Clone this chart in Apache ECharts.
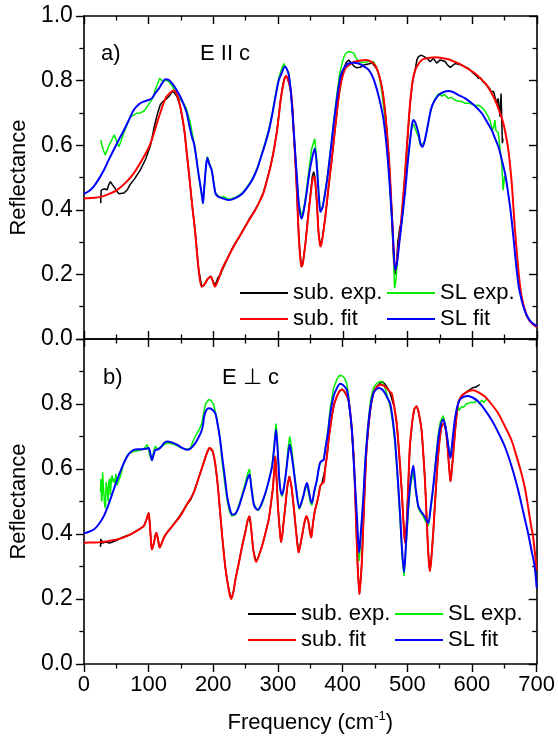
<!DOCTYPE html>
<html><head><meta charset="utf-8">
<script src="https://cdn.jsdelivr.net/npm/echarts@6/dist/echarts.min.js"></script>
<style>html,body{margin:0;padding:0;background:#fff}#c{width:558px;height:744px}</style>
</head><body><div id="c"></div>
<script>
// ---------- DATA (frequency cm^-1, reflectance) ----------
const xTickLabels = [0,100,200,300,400,500,600,700];
const yTickLabels = [0.0,0.2,0.4,0.6,0.8,1.0];
const seriesNames = ['sub. exp.','SL exp.','sub. fit','SL fit'];
const panelLabels = ['a)','b)'];
const panelTitles = ['E II c','E \u22A5 c'];

// Panel a) E || c
const topSubExp = [[26,0.42],[26.7,0.46],[28,0.455],[31,0.465],[34,0.47],[36,0.462],[38,0.475],[41,0.487],[44,0.478],[47,0.47],[50,0.46],[54,0.45],[57,0.448],[62,0.452],[67,0.462],[72,0.48],[78,0.495],[87,0.523],[95,0.555],[103,0.6],[107,0.64],[110,0.668],[114,0.7],[118,0.725],[122,0.735],[128.5,0.745],[133,0.755],[136,0.766],[140,0.762],[144,0.75],[149,0.719],[155,0.65],[159,0.575],[163,0.5],[167,0.42],[172,0.33],[177,0.22],[182,0.162],[186,0.168],[191,0.185],[196,0.195],[199,0.182],[202.5,0.165],[207,0.19],[211,0.2],[214,0.215],[220,0.24],[224,0.26],[229,0.28],[234,0.298],[240,0.315],[245,0.335],[250,0.35],[255,0.37],[263,0.395],[270,0.42],[277,0.452],[283,0.493],[289,0.54],[293.5,0.585],[298,0.64],[301,0.69],[304,0.742],[307.3,0.785],[310,0.808],[312.5,0.815],[315,0.805],[319,0.776],[322,0.72],[324,0.647],[327,0.54],[329.4,0.441],[331,0.36],[333,0.286],[336,0.224],[338,0.232],[340,0.26],[342.3,0.296],[346,0.375],[350,0.45],[353,0.505],[355,0.518],[357,0.5],[360,0.42],[362.5,0.33],[365.4,0.29],[368,0.305],[373,0.379],[378,0.47],[383.4,0.564],[388,0.65],[393.7,0.75],[398,0.805],[402,0.84],[405,0.855],[409,0.864],[413,0.855],[417,0.845],[421,0.84],[427,0.841],[432,0.848],[436,0.85],[441,0.852],[445,0.855],[448,0.85],[453,0.835],[458,0.802],[462,0.76],[465.6,0.699],[469,0.62],[471.8,0.543],[474.5,0.44],[477,0.337],[479,0.25],[481,0.2],[483,0.23],[485,0.3],[488,0.345],[491,0.36],[493,0.42],[496.5,0.52],[500,0.62],[504,0.73],[508,0.8],[512,0.835],[514.4,0.864],[517,0.874],[521,0.879],[525,0.875],[530,0.869],[535,0.858],[540,0.869],[545,0.854],[550.5,0.864],[558,0.859],[562,0.848],[566,0.841],[573.6,0.853],[584,0.848],[594,0.838],[602,0.822],[607,0.814],[609.5,0.807],[613,0.808],[617,0.795],[621,0.79],[624,0.792],[627,0.775],[629,0.766],[633,0.766],[635,0.75],[638,0.73],[640,0.745],[643,0.688],[644.5,0.76],[646.5,0.606],[647.5,0.62]];

const topSLExp = [[26,0.616],[28,0.6],[30,0.585],[33,0.57],[36,0.585],[39,0.6],[41,0.605],[44,0.62],[47,0.632],[50,0.615],[54,0.595],[57,0.61],[62,0.64],[67,0.665],[72,0.688],[77,0.693],[82,0.699],[87,0.7],[92.5,0.705],[97,0.717],[103,0.735],[107,0.748],[110,0.77],[114,0.79],[117,0.807],[120,0.8],[123,0.797],[127,0.8],[131,0.797],[136,0.785],[141,0.766],[147,0.745],[154,0.73],[159,0.71],[164,0.673],[168,0.63],[171,0.6],[174,0.56],[177,0.51],[180,0.47],[182,0.44],[184,0.42],[186,0.47],[188.5,0.535],[190.7,0.565],[194,0.545],[197.4,0.525],[200,0.49],[203.5,0.452],[208,0.442],[212,0.438],[216.4,0.441],[219,0.435],[224,0.432],[234,0.438],[244.6,0.452],[252,0.47],[260,0.495],[268,0.53],[275.5,0.578],[281,0.615],[286,0.652],[291,0.7],[296,0.755],[301,0.808],[305.3,0.835],[309,0.853],[312,0.848],[316.6,0.823],[320,0.76],[322.7,0.69],[326,0.59],[329.4,0.49],[332,0.42],[336,0.384],[339,0.395],[343.3,0.45],[348,0.53],[352,0.59],[356.7,0.62],[360,0.55],[363,0.45],[365.4,0.394],[369,0.41],[375.7,0.495],[381,0.585],[386,0.675],[391,0.76],[395,0.82],[398.8,0.853],[402,0.875],[405,0.885],[409,0.89],[413,0.888],[416.8,0.885],[420,0.872],[424.5,0.859],[430,0.856],[435,0.857],[440,0.86],[444,0.858],[447.6,0.859],[452,0.84],[456,0.815],[460,0.77],[464,0.705],[468,0.62],[471,0.53],[474,0.43],[476.5,0.33],[478.5,0.24],[480,0.157],[482,0.18],[485,0.26],[488,0.33],[491,0.36],[494,0.42],[498,0.51],[502,0.59],[506.7,0.657],[509,0.665],[512,0.66],[517,0.625],[520,0.6],[523,0.595],[526,0.608],[530,0.645],[534,0.69],[538,0.722],[543,0.745],[548,0.76],[553,0.752],[557,0.757],[563,0.745],[568,0.748],[573,0.74],[578,0.737],[584,0.735],[589,0.73],[595,0.73],[600,0.727],[605,0.722],[609.5,0.724],[615,0.717],[620,0.705],[625,0.688],[628,0.672],[631,0.647],[633,0.655],[635,0.678],[636.5,0.645],[638,0.645],[640,0.64],[642.6,0.595],[645.5,0.544],[647.7,0.461],[650,0.505]];

const topSubFit = [[0,0.435],[15,0.437],[26,0.44],[40,0.45],[51,0.461],[65,0.485],[77,0.513],[90,0.555],[103,0.606],[116,0.688],[126,0.745],[133,0.762],[138,0.769],[143,0.76],[149,0.719],[155,0.65],[159,0.575],[163,0.5],[167,0.42],[172,0.33],[177,0.22],[182,0.162],[186,0.168],[191,0.185],[196,0.193],[199,0.18],[202.5,0.162],[207,0.18],[214,0.219],[224,0.258],[234,0.296],[245,0.333],[255,0.368],[263,0.393],[270,0.42],[277,0.45],[283,0.492],[289,0.54],[293.5,0.585],[298,0.64],[301,0.688],[304,0.74],[307.3,0.781],[310,0.805],[312.5,0.814],[315,0.805],[319,0.776],[322,0.72],[324,0.647],[327,0.54],[329.4,0.441],[331,0.36],[333,0.286],[336,0.224],[338,0.232],[340,0.26],[342.3,0.296],[346,0.37],[350,0.441],[353,0.49],[355,0.503],[357,0.495],[360,0.42],[362.5,0.33],[365.4,0.286],[368,0.305],[373,0.379],[378,0.47],[383.4,0.564],[388,0.65],[393.7,0.75],[398,0.8],[404,0.838],[412,0.852],[419.4,0.859],[427,0.862],[434.8,0.864],[441,0.862],[447.6,0.853],[453,0.835],[458,0.802],[462,0.76],[465.6,0.699],[469,0.62],[471.8,0.543],[474.5,0.44],[477,0.337],[479,0.25],[481,0.214],[483,0.23],[485,0.27],[488.8,0.337],[492,0.41],[496.5,0.523],[500,0.625],[504,0.73],[508,0.8],[512,0.833],[517,0.852],[522,0.864],[527,0.868],[535,0.871],[542.7,0.872],[553,0.87],[563.3,0.866],[573,0.858],[583.8,0.848],[594,0.836],[604.4,0.822],[612,0.808],[619.8,0.792],[628,0.768],[635.2,0.74],[642,0.705],[648,0.668],[652,0.63],[655.8,0.585],[658.5,0.535],[661,0.482],[663.5,0.41],[666,0.337],[668.5,0.275],[671.2,0.214],[673.5,0.17],[676.3,0.131],[680,0.1],[684,0.074],[688,0.058],[692,0.049],[696,0.042],[700,0.037]];

const topSLFit = [[0,0.449],[8,0.458],[15,0.472],[23,0.495],[31,0.523],[38,0.553],[46,0.585],[54,0.617],[62,0.647],[70,0.68],[77,0.709],[85,0.727],[92.5,0.735],[100,0.74],[105,0.745],[110,0.76],[116,0.776],[121,0.792],[126,0.804],[131,0.802],[136,0.792],[142,0.775],[149,0.75],[154,0.727],[159,0.699],[163,0.66],[167,0.625],[170,0.606],[173,0.57],[177,0.513],[180,0.475],[182,0.45],[184,0.42],[186,0.47],[188.5,0.53],[190.7,0.56],[194,0.54],[197.4,0.523],[200,0.49],[203.5,0.45],[208,0.44],[214,0.436],[224,0.43],[234,0.436],[244.6,0.45],[252,0.468],[260,0.492],[268,0.528],[275.5,0.575],[281,0.61],[286,0.647],[291,0.695],[296,0.75],[301,0.8],[305.3,0.822],[310.4,0.843],[313,0.838],[316.6,0.817],[320,0.76],[322.7,0.688],[326,0.59],[329.4,0.492],[332,0.42],[336,0.373],[339,0.39],[343.3,0.441],[348,0.51],[352.6,0.56],[356.7,0.59],[360,0.53],[363,0.44],[365.4,0.394],[369,0.41],[375.7,0.492],[381,0.58],[386,0.668],[391,0.745],[396.3,0.812],[402,0.84],[409,0.853],[417,0.855],[424.5,0.853],[432,0.845],[440,0.833],[447,0.808],[452.8,0.771],[458,0.73],[463,0.678],[467,0.61],[470.8,0.523],[474,0.43],[477,0.337],[479,0.26],[481,0.214],[484,0.24],[487.2,0.296],[492,0.38],[496.5,0.461],[500,0.54],[504,0.616],[507,0.665],[509.3,0.678],[512,0.67],[517,0.637],[520,0.605],[523.2,0.595],[526,0.61],[530,0.647],[534,0.69],[537.6,0.72],[543,0.742],[548,0.755],[555,0.764],[563.3,0.768],[571,0.764],[578.7,0.755],[589,0.745],[599.3,0.73],[607,0.716],[614.7,0.699],[622,0.675],[630,0.647],[635,0.622],[640.4,0.595],[645,0.56],[650.6,0.513],[654.5,0.465],[658.4,0.41],[661,0.365],[663.5,0.317],[666,0.265],[668.6,0.214],[672,0.16],[676.3,0.12],[681,0.088],[686.6,0.064],[692,0.05],[700,0.04]];

// Panel b) E ⊥ c
const botSubExp = [[25.7,0.36],[26.2,0.385],[27,0.37],[28,0.38],[29.5,0.372],[31,0.368],[33,0.375],[36,0.37],[40,0.372],[45,0.376],[50,0.38],[55,0.385],[60,0.39],[66,0.395],[72,0.398],[77,0.404],[86,0.415],[92.5,0.424],[96,0.44],[98.5,0.455],[100.2,0.465],[102,0.43],[104,0.37],[105.3,0.352],[108,0.37],[110.5,0.395],[112,0.404],[114,0.39],[117.2,0.358],[120,0.37],[124,0.39],[128.5,0.404],[137,0.425],[149,0.458],[159,0.49],[165,0.505],[169.6,0.528],[177,0.57],[185,0.618],[190,0.648],[194.2,0.665],[199,0.655],[203,0.618],[207,0.55],[210.7,0.465],[214,0.39],[218.4,0.302],[223,0.24],[227.6,0.2],[231,0.22],[234.4,0.261],[239.5,0.31],[244.7,0.363],[250,0.41],[253,0.44],[256,0.455],[259,0.41],[262,0.35],[266.3,0.314],[270,0.33],[275.5,0.363],[281,0.405],[285.8,0.445],[289,0.49],[292,0.537],[294.5,0.6],[296,0.64],[298,0.57],[300,0.486],[302.5,0.42],[304.8,0.375],[307,0.4],[309,0.44],[311.5,0.486],[314.5,0.545],[317.7,0.578],[321,0.545],[324.3,0.486],[328,0.41],[332,0.343],[335,0.37],[338.2,0.404],[341,0.435],[343.9,0.455],[347,0.44],[349.5,0.405],[351.6,0.389],[354,0.43],[357,0.47],[360.3,0.496],[363,0.52],[365.4,0.547],[368,0.555],[371,0.56],[373,0.6],[375.7,0.639],[379,0.7],[383.4,0.762],[387,0.8],[391.1,0.823],[395,0.84],[398.8,0.846],[403,0.838],[409,0.813],[413,0.75],[416.8,0.649],[418.8,0.56],[420.4,0.465],[422,0.37],[423.5,0.291],[426,0.215],[428,0.26],[429.7,0.312],[432,0.43],[434.8,0.567],[437,0.66],[440,0.731],[444,0.8],[447.7,0.835],[452,0.852],[458,0.864],[462,0.868],[466,0.86],[470,0.848],[473,0.835],[475.9,0.833],[480,0.79],[483.6,0.741],[487,0.66],[491.3,0.537],[494,0.44],[496.4,0.373],[499,0.43],[501.5,0.55],[504,0.67],[508,0.75],[511,0.785],[514.4,0.794],[518,0.77],[522,0.721],[525,0.64],[527.3,0.567],[529.5,0.47],[531.4,0.383],[533.5,0.31],[535,0.286],[537,0.32],[540.1,0.404],[543,0.5],[546.8,0.618],[550,0.69],[553,0.731],[557,0.741],[560,0.715],[562.2,0.67],[564.5,0.61],[566.8,0.562],[569,0.6],[572,0.67],[575,0.74],[578.7,0.803],[584,0.825],[589,0.833],[595,0.842],[598,0.848],[601,0.85],[603,0.846],[606,0.852],[609,0.855],[612,0.86]];

const botSLExp = [[25.7,0.53],[26.5,0.57],[27.5,0.5],[28.3,0.52],[29,0.59],[30,0.55],[30.8,0.53],[32,0.49],[33.4,0.48],[34.5,0.56],[36,0.54],[37.5,0.5],[38.5,0.56],[40,0.57],[41,0.52],[42.5,0.57],[43.7,0.58],[45,0.56],[46.2,0.57],[48,0.555],[49.5,0.585],[51.4,0.55],[53,0.56],[56.5,0.578],[61.7,0.618],[66,0.638],[69.4,0.648],[77,0.654],[85,0.657],[90,0.66],[94,0.665],[97.6,0.675],[99.5,0.665],[101.5,0.645],[103,0.635],[105.3,0.625],[108,0.655],[110.5,0.67],[113,0.662],[117,0.665],[120.8,0.67],[124,0.675],[128.5,0.68],[136,0.678],[143.9,0.672],[150,0.665],[159.3,0.66],[165,0.665],[169.6,0.69],[175,0.71],[178,0.72],[182.4,0.741],[185,0.77],[188,0.8],[192.7,0.813],[196,0.812],[200.4,0.8],[205.5,0.755],[210,0.7],[213.2,0.63],[217,0.57],[221,0.51],[225,0.47],[228.7,0.455],[231,0.452],[234.4,0.46],[239,0.485],[244.7,0.522],[250,0.56],[253,0.585],[256,0.6],[259,0.55],[262.7,0.495],[266,0.48],[269.3,0.472],[275,0.49],[280.6,0.522],[286,0.565],[291,0.612],[294,0.67],[297.1,0.74],[299.5,0.675],[302.2,0.57],[304,0.53],[306.3,0.515],[309,0.535],[312.5,0.59],[315.5,0.66],[318.2,0.7],[321,0.668],[324.3,0.61],[328,0.545],[333,0.476],[336,0.49],[339.8,0.518],[342.5,0.54],[344.9,0.552],[348,0.52],[350.5,0.495],[352.6,0.488],[356,0.525],[360.3,0.566],[363,0.6],[365.4,0.62],[368,0.625],[370.6,0.63],[374,0.675],[377.3,0.72],[381,0.79],[386,0.848],[391,0.875],[395,0.888],[399,0.887],[403,0.88],[406.6,0.862],[410,0.81],[414.3,0.72],[417,0.63],[419.4,0.54],[422.5,0.42],[425.6,0.317],[428,0.38],[432.2,0.51],[435,0.63],[439,0.73],[443,0.81],[447.7,0.85],[452,0.862],[456.4,0.868],[461,0.87],[465.6,0.85],[469,0.825],[473.3,0.795],[477,0.75],[481,0.68],[485,0.57],[488.7,0.45],[492,0.33],[494.9,0.271],[498,0.36],[501.6,0.47],[505,0.55],[509.3,0.593],[513,0.53],[517,0.48],[521,0.465],[524.7,0.455],[528,0.44],[532.4,0.424],[536,0.47],[540.1,0.54],[544,0.63],[547.8,0.705],[551,0.745],[555.5,0.764],[559,0.735],[562.2,0.69],[564.5,0.655],[566.8,0.644],[569.5,0.68],[573.5,0.74],[578,0.79],[580,0.78],[583.8,0.792],[587,0.79],[591,0.8],[594,0.795],[598,0.805],[601,0.8],[604.4,0.805],[608,0.81],[612,0.8],[615,0.812],[619,0.805],[622.3,0.815]];

const botSubFit = [[0,0.373],[15,0.374],[25.7,0.375],[40,0.379],[51.4,0.383],[65,0.392],[77,0.404],[86,0.415],[92.5,0.424],[96,0.44],[98.5,0.455],[100.2,0.465],[102,0.43],[104,0.37],[105.3,0.352],[108,0.37],[110.5,0.395],[112,0.404],[114,0.39],[117.2,0.358],[120,0.37],[124,0.39],[128.5,0.404],[137,0.425],[149,0.455],[159,0.49],[169.6,0.526],[177,0.57],[185,0.618],[190,0.648],[194.2,0.665],[199,0.655],[203,0.618],[207,0.55],[210.7,0.465],[214,0.39],[218.4,0.302],[223,0.24],[227.6,0.2],[231,0.22],[234.4,0.261],[239.5,0.31],[244.7,0.363],[250,0.41],[253,0.44],[256,0.455],[259,0.41],[262,0.35],[266.3,0.314],[270,0.33],[275.5,0.363],[281,0.405],[285.8,0.445],[289,0.49],[292,0.537],[294.5,0.6],[296,0.639],[298,0.57],[300,0.486],[302.5,0.42],[304.8,0.375],[307,0.4],[309,0.44],[311.5,0.486],[314.5,0.545],[317.7,0.577],[321,0.545],[324.3,0.486],[328,0.41],[332,0.343],[335,0.37],[338.2,0.404],[341,0.435],[343.9,0.455],[347,0.44],[349.5,0.405],[351.6,0.389],[354,0.43],[357,0.47],[360.3,0.496],[363,0.52],[365.4,0.547],[368,0.555],[371,0.56],[373,0.6],[375.7,0.639],[379,0.7],[383.4,0.762],[387,0.8],[391.1,0.823],[395,0.838],[398.8,0.844],[403,0.838],[409,0.813],[413,0.75],[416.8,0.649],[418.8,0.56],[420.4,0.465],[422,0.37],[423.5,0.291],[426,0.215],[428,0.26],[429.7,0.312],[432,0.43],[434.8,0.567],[437,0.66],[440,0.731],[444,0.8],[447.7,0.833],[452,0.85],[458,0.859],[463,0.857],[468.2,0.849],[473,0.838],[475.9,0.833],[480,0.79],[483.6,0.741],[487,0.66],[491.3,0.537],[494,0.44],[496.4,0.373],[499,0.43],[501.5,0.55],[504,0.67],[508,0.75],[511,0.785],[514.4,0.792],[518,0.77],[522,0.721],[525,0.64],[527.3,0.567],[529.5,0.47],[531.4,0.383],[533.5,0.31],[535,0.286],[537,0.32],[540.1,0.404],[543,0.5],[546.8,0.618],[550,0.69],[553,0.731],[557,0.741],[560,0.715],[562.2,0.67],[564.5,0.61],[566.8,0.562],[569,0.6],[572,0.67],[575,0.74],[578.7,0.803],[584,0.825],[589,0.833],[595,0.84],[601.8,0.842],[610,0.836],[619.8,0.823],[630,0.8],[640.3,0.772],[650,0.735],[660.9,0.69],[668,0.645],[676.3,0.588],[682,0.54],[686.6,0.486],[691,0.43],[694.3,0.394],[698,0.33],[700,0.29]];

const botSLFit = [[0,0.402],[8,0.407],[15.4,0.414],[23,0.43],[30.8,0.455],[38,0.49],[46.2,0.537],[54,0.58],[61.7,0.618],[69,0.645],[77,0.659],[84,0.661],[90,0.661],[96,0.662],[100.2,0.665],[103,0.645],[105.3,0.628],[108,0.645],[110.5,0.659],[114,0.66],[119,0.667],[124,0.68],[128.5,0.685],[136,0.682],[143.9,0.675],[150,0.667],[159.3,0.659],[165,0.663],[172,0.679],[178,0.7],[182.4,0.72],[184.5,0.74],[186,0.762],[189,0.78],[192.7,0.787],[197,0.785],[203,0.772],[207,0.735],[210.7,0.69],[214,0.635],[218.4,0.567],[222,0.51],[226,0.475],[229,0.46],[231.2,0.46],[234.4,0.463],[239,0.48],[244.7,0.516],[250,0.55],[253,0.57],[256,0.583],[259,0.54],[262.7,0.491],[266,0.478],[269.3,0.475],[275,0.495],[280.6,0.526],[286,0.565],[291,0.608],[294,0.66],[297.1,0.721],[299.5,0.66],[302.2,0.567],[304,0.535],[306.3,0.521],[309,0.54],[312.5,0.588],[315.5,0.64],[318.2,0.675],[321,0.645],[324.3,0.598],[328,0.54],[333,0.48],[336,0.495],[339.8,0.521],[342.5,0.545],[344.9,0.557],[348,0.53],[350.5,0.505],[352.6,0.496],[356,0.53],[360.3,0.567],[363,0.6],[365.4,0.62],[368,0.625],[370.6,0.628],[374,0.67],[377.3,0.71],[381,0.77],[386,0.823],[391,0.848],[396.3,0.862],[401,0.858],[406.6,0.844],[410,0.8],[414.3,0.721],[417,0.63],[419.4,0.547],[422.5,0.44],[425.6,0.343],[428,0.4],[432.2,0.517],[435,0.62],[439,0.721],[443,0.79],[447.7,0.833],[452,0.845],[456.4,0.849],[461,0.845],[465.6,0.833],[469,0.82],[473.3,0.803],[477,0.76],[481,0.69],[485,0.58],[488.7,0.465],[492,0.35],[494.9,0.283],[498,0.37],[501.6,0.486],[505,0.56],[509.3,0.61],[513,0.54],[517,0.486],[521,0.47],[524.7,0.46],[528,0.45],[532.4,0.434],[536,0.48],[540.1,0.546],[544,0.62],[547.8,0.69],[551,0.73],[555.5,0.752],[559,0.73],[562.2,0.69],[564.5,0.655],[566.8,0.634],[569.5,0.68],[573.5,0.752],[577,0.79],[581.2,0.813],[587,0.822],[594,0.825],[601,0.82],[609.5,0.808],[620,0.782],[630,0.752],[640,0.715],[650.6,0.67],[661,0.61],[671.2,0.537],[679,0.47],[686.6,0.404],[692,0.35],[696.8,0.302],[700,0.235]];

// ---------- CHART ----------
const FONT = '"Liberation Sans", Arial, sans-serif';
const colors = {'sub. exp.':'#000000','SL exp.':'#00ee00','sub. fit':'#ff0000','SL fit':'#0000ff'};
const chart = echarts.init(document.getElementById('c'), null, {renderer:'canvas'});

function xAx(grid, pos, inside, showLabel, name) {
  const a = {
    type:'value', gridIndex:grid, position:pos, min:0, max:700, interval:100,
    axisLine:{show:true, onZero:false, lineStyle:{color:'#000', width:1.6}},
    axisTick:{show:true, inside:inside, length:8, lineStyle:{color:'#000', width:1.4}},
    minorTick:{show:true, splitNumber:2, length:4.5, lineStyle:{color:'#000', width:1.3}},
    axisLabel:{show:showLabel, margin:10, color:'#000', fontSize:22, fontFamily:FONT,
      formatter: v => xTickLabels.includes(v) ? String(v) : ''},
    splitLine:{show:false}, minorSplitLine:{show:false}
  };
  if (name) {
    a.name = 'Frequency (cm{sup|-1})';
    a.nameLocation = 'middle';
    a.nameGap = 46;
    a.nameTextStyle = {color:'#000', fontSize:22, fontFamily:FONT,
      rich:{sup:{fontSize:13, fontFamily:FONT, color:'#000', verticalAlign:'top', padding:[0,0,12,0]}}};
  }
  return a;
}
function yAx(grid, pos, inside, showLabel, hideTop) {
  return {
    type:'value', gridIndex:grid, position:pos, min:0, max:1, interval:0.2,
    axisLine:{show:true, onZero:false, lineStyle:{color:'#000', width:1.6}},
    axisTick:{show:true, inside:inside, length:8, lineStyle:{color:'#000', width:1.4}},
    minorTick:{show:true, splitNumber:2, length:4.5, lineStyle:{color:'#000', width:1.3}},
    axisLabel:{show:showLabel, margin:11, color:'#000', fontSize:23, fontFamily:FONT,
      formatter: v => (hideTop && v > 0.99) ? '' : (yTickLabels.find(t => Math.abs(t - v) < 1e-6) ?? v).toFixed(1)},
    splitLine:{show:false}, minorSplitLine:{show:false},
    name: showLabel ? 'Reflectance' : '', nameLocation:'middle', nameGap:47, nameRotate:90,
    nameTextStyle:{color:'#000', fontSize:22, fontFamily:FONT}
  };
}

function ser(name, data, xi, yi, smooth, width) {
  return {type:'line', name, data, xAxisIndex:xi, yAxisIndex:yi, symbol:'none', showSymbol:false,
    smooth, lineStyle:{color:colors[name], width}, itemStyle:{color:colors[name]},
    animation:false, clip:true};
}

function leg(left, top, name) {
  return {left, top, data:[name], icon:'rect', itemWidth:48, itemHeight:2, itemGap:0, padding:0,
    selectedMode:false, textStyle:{color:'#000', fontSize:22, fontFamily:FONT, lineHeight:24}};
}

const option = {
  backgroundColor:'#fff',
  animation:false,
  grid:[
    {left:83, top:16, width:454, height:323},
    {left:83, top:339, width:454, height:325}
  ],
  xAxis:[
    xAx(0,'bottom',true,false),
    xAx(0,'top',true,false),
    xAx(1,'bottom',false,true,true),
    xAx(1,'top',true,false)
  ],
  yAxis:[
    yAx(0,'left',false,true,false),
    yAx(0,'right',true,false,false),
    yAx(1,'left',false,true,true),
    yAx(1,'right',true,false,false)
  ],
  legend:[
    leg(240,281,seriesNames[0]), leg(387,281,seriesNames[1]),
    leg(240,307,seriesNames[2]), leg(387,307,seriesNames[3]),
    leg(248,602,seriesNames[0]), leg(395,602,seriesNames[1]),
    leg(248,628,seriesNames[2]), leg(395,628,seriesNames[3])
  ],
  graphic:[
    {type:'text', x:101, y:54, style:{text:panelLabels[0], fill:'#000', font:'22px ' + FONT, verticalAlign:'middle'}},
    {type:'text', x:200, y:54, style:{text:panelTitles[0], fill:'#000', font:'22px ' + FONT, verticalAlign:'middle'}},
    {type:'text', x:103, y:378, style:{text:panelLabels[1], fill:'#000', font:'22px ' + FONT, verticalAlign:'middle'}},
    {type:'text', x:222, y:378, style:{text:panelTitles[1], fill:'#000', font:'22px ' + FONT, verticalAlign:'middle'}}
  ],
  series:[
    ser('sub. exp.', topSubExp, 0, 0, false, 1.5),
    ser('SL exp.', topSLExp, 0, 0, false, 1.5),
    ser('sub. fit', topSubFit, 0, 0, 0.3, 2),
    ser('SL fit', topSLFit, 0, 0, 0.3, 2),
    ser('sub. exp.', botSubExp, 2, 2, false, 1.5),
    ser('SL exp.', botSLExp, 2, 2, false, 1.5),
    ser('sub. fit', botSubFit, 2, 2, 0.3, 2),
    ser('SL fit', botSLFit, 2, 2, 0.3, 2)
  ]
};
chart.setOption(option);
</script>
</body></html>
